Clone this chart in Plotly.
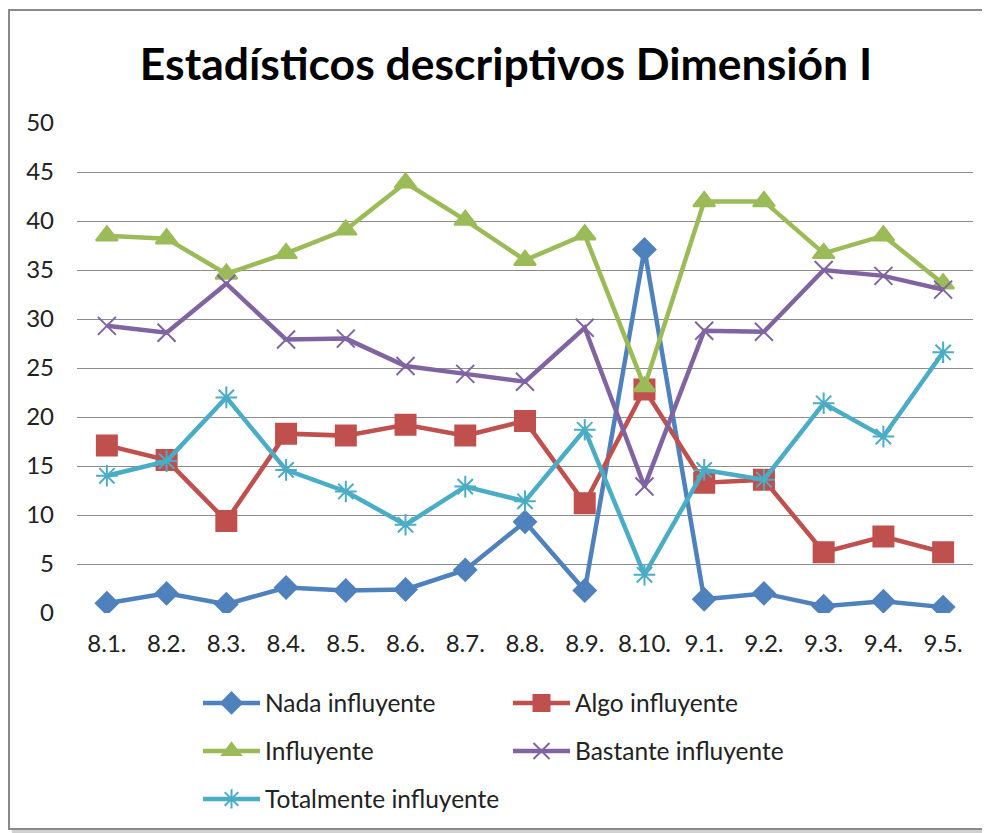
import plotly.graph_objects as go

categories = ["8.1.", "8.2.", "8.3.", "8.4.", "8.5.", "8.6.", "8.7.", "8.8.", "8.9.", "8.10.",
              "9.1.", "9.2.", "9.3.", "9.4.", "9.5."]
nada = [1.0, 2.0, 0.9, 2.6, 2.3, 2.4, 4.4, 9.3, 2.3, 37.1, 1.4, 2.0, 0.7, 1.2, 0.6]
algo = [17.1, 15.6, 9.4, 18.3, 18.1, 19.2, 18.1, 19.6, 11.2, 22.8, 13.3, 13.6, 6.2, 7.8, 6.2]
influyente = [38.5, 38.2, 34.6, 36.7, 39.1, 43.9, 40.1, 36.0, 38.6, 23.1, 42.0, 42.0, 36.7, 38.5, 33.6]
bastante = [29.3, 28.6, 33.6, 27.9, 28.0, 25.2, 24.4, 23.6, 29.1, 12.9, 28.8, 28.7, 35.0, 34.4, 33.0]
totalmente = [14.0, 15.5, 22.0, 14.6, 12.4, 9.0, 12.9, 11.4, 18.7, 3.9, 14.6, 13.6, 21.4, 18.0, 26.6]

series_names = ["Nada influyente", "Algo influyente", "Influyente", "Bastante influyente", "Totalmente influyente"]
series_values = [nada, algo, influyente, bastante, totalmente]
colors = ["#4F81BD", "#C0504D", "#9BBB59", "#8064A2", "#4BACC6"]
symbols = ["diamond", "square", "triangle-up", "x-thin-open", "asterisk-open"]
sizes = [17, 20, 19, 18, 18]
legend_ids = ["legend", "legend", "legend2", "legend2", "legend3"]

fig = go.Figure()
for name, vals, c, s, sz, lg in zip(series_names, series_values, colors, symbols, sizes, legend_ids):
    fig.add_trace(go.Scatter(
        x=categories, y=vals, name=name, mode="lines+markers",
        line=dict(color=c, width=4.5),
        marker=dict(symbol=s, size=sz, color=c, line=dict(color=c, width=2)),
        legend=lg,
    ))

# page body has an 8px default margin; compensate so page coords match the reference
OX, OY = 8, 8
W, H = 990 - OX, 833 - OY
L, R, T, B = 77 - OX, 17, 123 - OY, 220
pw, ph = W - L - R, H - T - B

def px(x):
    return (x - OX - L) / pw

def py(y):
    return (H - B - (y - OY)) / ph

FONT = "Lato, Carlito, 'Open Sans', sans-serif"

def leg(ycenter):
    return dict(orientation="h", x=px(198), xanchor="left", y=py(ycenter), yanchor="middle",
                entrywidth=238, entrywidthmode="pixels",
                font=dict(size=24.5, color="#222", family=FONT), itemwidth=57,
                bgcolor="rgba(0,0,0,0)")

fig.update_layout(
    width=W, height=H,
    margin=dict(l=L, r=R, t=T, b=B, autoexpand=False),
    paper_bgcolor="white", plot_bgcolor="white",
    font=dict(family=FONT, color="#1a1a1a"),
    title=dict(text="<b>Estadísticos descriptivos Dimensión I</b>",
               x=px(506), xanchor="center", xref="paper", y=1 - (64 - OY) / H, yanchor="middle",
               font=dict(size=44.5, color="black", family=FONT)),
    xaxis=dict(showgrid=False, showline=False, zeroline=False, ticks="", automargin=False,
               range=[-0.5, len(categories) - 0.5],
               tickfont=dict(size=24, color="#222"), ticklabelstandoff=14),
    yaxis=dict(range=[0, 50], dtick=5, showgrid=True, gridcolor="#8C8C8C", gridwidth=1,
               zeroline=False, showline=False, ticks="", ticklabelstandoff=22, automargin=False,
               tickfont=dict(size=24, color="#222")),
    legend=leg(703),
    legend2=leg(751),
    legend3=leg(799),
    showlegend=True,
    shapes=[
        dict(type="rect", xref="paper", yref="paper",
             x0=px(12), x1=px(988), y0=py(833), y1=py(13),
             line=dict(width=0), fillcolor="#D0D0D0", layer="below"),
        dict(type="rect", xref="paper", yref="paper",
             x0=px(9), x1=px(984), y0=py(829), y1=py(10),
             line=dict(color="#8A8A8A", width=2), fillcolor="white", layer="below"),
    ],
)

fig.write_html("out.html")
